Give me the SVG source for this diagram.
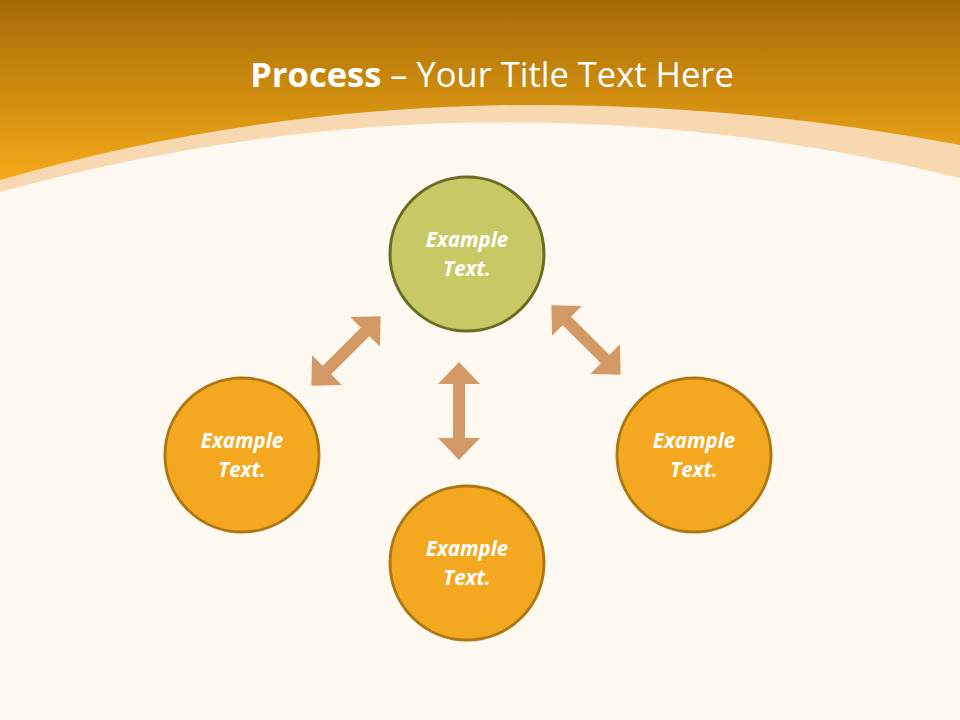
<svg xmlns="http://www.w3.org/2000/svg" width="960" height="720" viewBox="0 0 960 720">
<defs>
<linearGradient id="hg" x1="0" y1="0" x2="0" y2="1">
<stop offset="0" stop-color="#a46c06"/><stop offset="1" stop-color="#f6aa18"/>
</linearGradient>
<polygon id="arr" points="0,-49 21,-27 6,-27 6,27 21,27 0,49 -21,27 -6,27 -6,-27 -21,-27"/>
</defs>
<style>
.t{font-family:"Open Sans","Liberation Sans",sans-serif;font-size:20.5px;font-weight:bold;font-style:italic;fill:#fff;text-anchor:middle}
.o{fill:#f3a81f;stroke:#ad7814;stroke-width:3}
.g{fill:#c8c964;stroke:#6a6a22;stroke-width:3}
.a{fill:#d39a68}
</style>
<rect width="960" height="720" fill="#fdf9f0"/>
<path d="M0,192 Q480,60 960,178 L960,0 L0,0Z" fill="#f8d8b0"/>
<path d="M0,180 Q450,50 960,145 L960,0 L0,0Z" fill="url(#hg)"/>
<text x="492" y="87" font-family="'Open Sans','Liberation Sans',sans-serif" font-size="34.5" fill="#fff" text-anchor="middle"><tspan font-weight="bold">Process</tspan> – Your Title Text Here</text>
<g id="connectors">
<use href="#arr" class="a" transform="translate(459,411)"/>
<use href="#arr" class="a" transform="translate(346,351) rotate(45)"/>
<use href="#arr" class="a" transform="translate(586,340) rotate(-45)"/>
</g>
<g id="n1"><circle cx="467" cy="254" r="77" class="g"/><text class="t" x="467" y="247">Example</text><text class="t" x="467" y="276">Text.</text></g>
<g id="n2"><circle cx="242" cy="455" r="77" class="o"/><text class="t" x="242" y="448">Example</text><text class="t" x="242" y="477">Text.</text></g>
<g id="n3"><circle cx="467" cy="563" r="77" class="o"/><text class="t" x="467" y="556">Example</text><text class="t" x="467" y="585">Text.</text></g>
<g id="n4"><circle cx="694" cy="455" r="77" class="o"/><text class="t" x="694" y="448">Example</text><text class="t" x="694" y="477">Text.</text></g>
</svg>
